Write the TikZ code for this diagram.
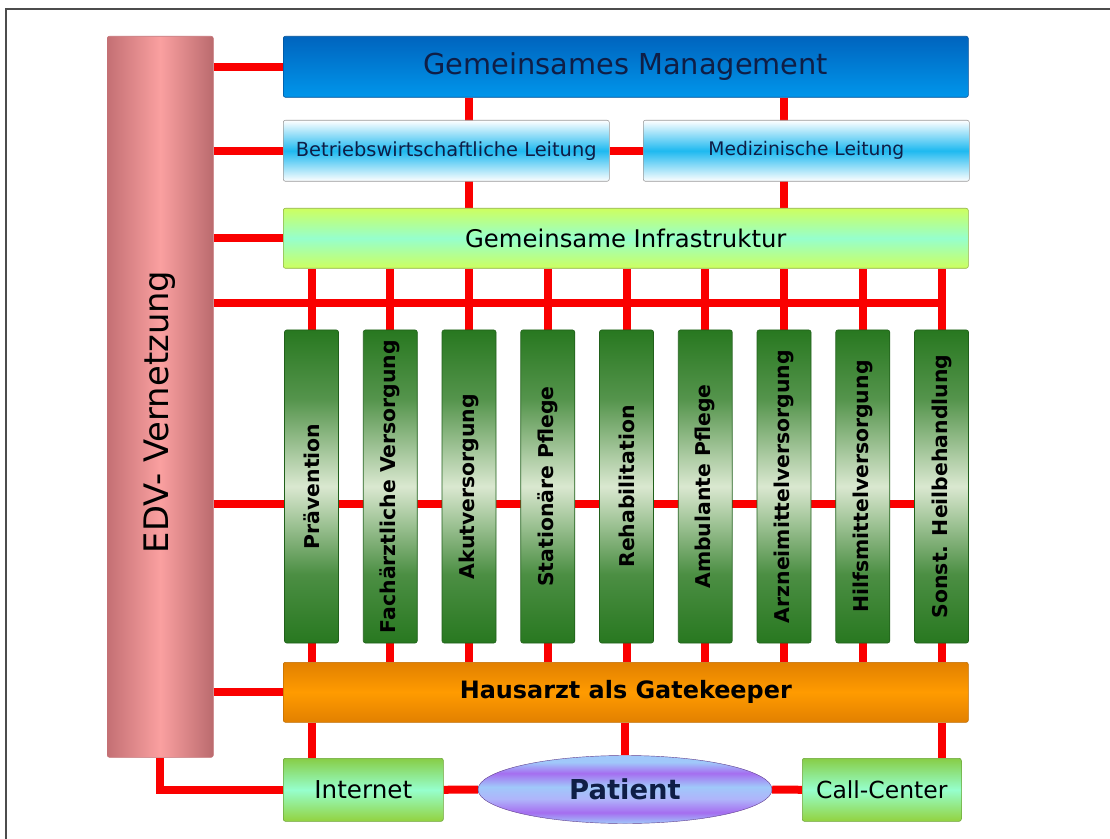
\documentclass[tikz,border=0pt]{standalone}
\usepackage{fontspec}
\setmainfont{DejaVu Sans}
\usetikzlibrary{shapes.geometric,backgrounds}

\definecolor{wirered}{RGB}{250,0,0}
\definecolor{pinkedge}{RGB}{196,112,116}
\definecolor{pinkmid}{RGB}{250,160,160}
\definecolor{mgmttop}{RGB}{0,100,190}
\definecolor{mgmtbot}{RGB}{0,150,235}
\definecolor{navy}{RGB}{15,30,70}
\definecolor{leitcyan}{RGB}{30,185,240}
\definecolor{infrayel}{RGB}{205,255,95}
\definecolor{infraaqua}{RGB}{150,255,205}
\definecolor{coldark}{RGB}{40,120,32}
\definecolor{collight}{RGB}{218,232,208}
\definecolor{hausedge}{RGB}{226,128,0}
\definecolor{hausmid}{RGB}{255,155,0}
\definecolor{boxgreen}{RGB}{135,205,70}
\definecolor{pblue}{RGB}{160,200,250}
\definecolor{pviolet}{RGB}{165,110,240}
\definecolor{plav}{RGB}{175,180,250}

% bands of the patient ellipse
\pgfdeclareverticalshading{patientbands}{100bp}{%
  color(0bp)=(pblue); color(25bp)=(pblue); color(33bp)=(pviolet);
  color(43bp)=(plav); color(52bp)=(pblue); color(62bp)=(pviolet);
  color(70bp)=(pblue); color(75bp)=(pblue); color(100bp)=(pblue)}
% sector columns: dark ends, light only round the middle
\pgfdeclareverticalshading{colgreen}{100bp}{%
  color(0bp)=(coldark); color(25bp)=(coldark); color(36bp)=(coldark!80!collight);
  color(50bp)=(collight); color(64bp)=(coldark!75!collight);
  color(75bp)=(coldark); color(100bp)=(coldark)}

% middle color always last, bottom/right color would reset it
\tikzset{
  box/.style={draw=#1, rounded corners=1.5pt, inner sep=0pt},
  wire/.style={draw=wirered, line width=0.2cm},
  colbox/.style={box=coldark!80!black, shading=colgreen,
    minimum width=54*0.025cm, minimum height=313*0.025cm},
  leitbox/.style={box=black!40, top color=white, bottom color=white,
    middle color=leitcyan, minimum width=326*0.025cm, minimum height=61*0.025cm,
    anchor=north west},
  accessbox/.style={box=boxgreen!80!black, top color=boxgreen,
    bottom color=boxgreen!90!yellow, middle color=infraaqua,
    minimum width=160*0.025cm, minimum height=63*0.025cm, anchor=north west},
}

\begin{document}
\begin{tikzpicture}[x=0.025cm,y=-0.025cm]
  \def\ux{0.025cm}
  \useasboundingbox (0,0) rectangle (1110,839);
  % frame around the figure
  \draw[line width=2*\ux, black!70] (6,839) -- (6,9) -- (1110,9);

  % EDV pillar
  \node[box=pinkedge, left color=pinkedge, right color=pinkedge!95!black, middle color=pinkmid,
        minimum width=106*\ux, minimum height=721*\ux, anchor=north west] (edv) at (107,36) {};
  \node[rotate=90, font=\fontsize{24}{24}\selectfont] at (160,412) {EDV- Vernetzung};

  % management and the two leading boards
  \node[box=mgmttop!80!black, top color=mgmttop, bottom color=mgmtbot,
        minimum width=685*\ux, minimum height=61*\ux, anchor=north west,
        text=navy, font=\fontsize{20.5}{20}\selectfont] (mgmt) at (283,36)
        {Gemeinsames Management};
  \node[leitbox, text=navy, font=\fontsize{13.8}{14}\selectfont] (betr) at (283,120)
        {Betriebswirtschaftliche Leitung};
  \node[leitbox, text=navy, font=\fontsize{13.3}{14}\selectfont] (med) at (643,120)
        {Medizinische Leitung};
  \node[box=infrayel!70!black, top color=infrayel, bottom color=infrayel,
        middle color=infraaqua, minimum width=685*\ux, minimum height=60*\ux,
        anchor=north west, font=\fontsize{17.3}{17}\selectfont] (infra) at (283,208)
        {Gemeinsame Infrastruktur};

  % the nine care sectors
  \foreach \lbl [count=\i] in {Prävention,Fachärztliche Versorgung,Akutversorgung,%
      Stationäre Pflege,Rehabilitation,Ambulante Pflege,Arzneimittelversorgung,%
      Hilfsmittelversorgung,Sonst. Heilbehandlung}{%
    \pgfmathsetmacro{\cx}{311.5+78.75*(\i-1)}% column centre
    \node[colbox] (c\i) at (\cx,486.5) {};
    \node[rotate=90, font=\bfseries\fontsize{14.5}{14}\selectfont] at (c\i) {\lbl};
  }

  % gatekeeper and access points
  \node[box=hausedge!85!black, top color=hausedge, bottom color=hausedge,
        middle color=hausmid, minimum width=685*\ux, minimum height=60*\ux,
        anchor=north west, font=\bfseries\fontsize{17}{17}\selectfont] (haus) at (283,662)
        {Hausarzt als Gatekeeper};
  \node[accessbox, font=\fontsize{17.5}{17}\selectfont] (inet) at (283,758) {Internet};
  \node[accessbox, minimum width=159*\ux, font=\fontsize{16.7}{17}\selectfont] (call) at (802,758)
        {Call-Center};
  \node[ellipse, draw=pviolet!60!black, line width=0.3pt, shading=patientbands,
        minimum width=294*\ux, minimum height=68*\ux, inner sep=0pt, text=navy,
        font=\bfseries\fontsize{19.5}{19}\selectfont] (pat) at (625,789.5) {Patient};

  % red connections behind the boxes
  \begin{scope}[on background layer]
    \coordinate (bus) at (0,303);
    \coordinate (mid) at (0,504);
    \foreach \n in {mgmt,betr,infra,haus}
      \draw[wire] (edv.east |- \n.west) -- (\n.west);
    \draw[wire] (edv.east |- bus) -- (c9 |- bus);
    \draw[wire] (edv.east |- mid) -- (c9 |- mid);
    \draw[wire] (c3 |- mgmt.south) -- (c3 |- infra.north);
    \draw[wire] (c7 |- mgmt.south) -- (c7 |- infra.north);
    \draw[wire] (betr.east) -- (med.west);
    \foreach \i in {1,...,9}
      \draw[wire] (c\i |- infra.south) -- (c\i |- haus.north);
    \draw[wire] (c1 |- haus.south) -- (c1 |- inet.north);
    \draw[wire] (pat |- haus.south) -- (pat.north);
    \draw[wire] (c9 |- haus.south) -- (c9 |- call.north);
    \draw[wire] (edv.south) |- (inet.west);
    \draw[wire] (inet.east) -- (pat.west);
    \draw[wire] (pat.east) -- (call.west);
  \end{scope}
\end{tikzpicture}
\end{document}
